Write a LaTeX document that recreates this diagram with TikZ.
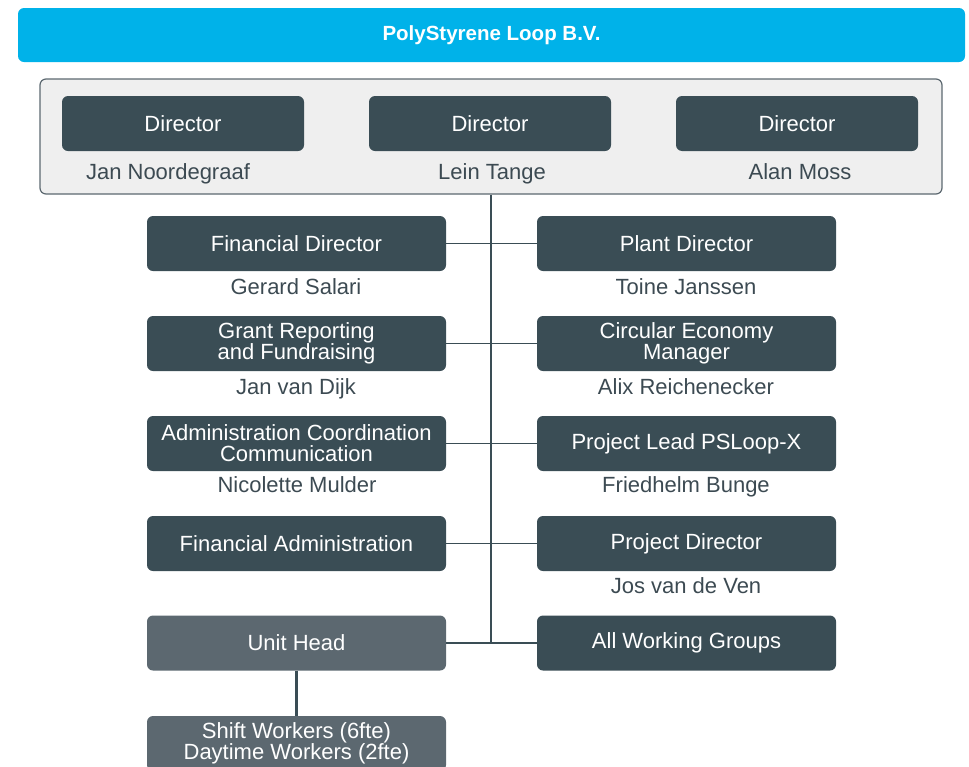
\documentclass[tikz,border=0pt]{standalone}
\usepackage{fontspec}
\setmainfont{Liberation Sans}
\usepackage{xcolor}
\usepackage{tikz}
\usetikzlibrary{positioning}
\definecolor{loopBlue}{HTML}{00B2E9}
\definecolor{slate}{HTML}{3A4D55}
\definecolor{slateLight}{HTML}{5C6870}
\definecolor{boardFill}{HTML}{EFEFEF}
\definecolor{nameText}{HTML}{3C4A52}
\tikzset{%
  company/.style={rectangle, rounded corners=6pt, fill=loopBlue, text=white, minimum width=947pt, minimum height=54pt, font=\fontsize{20.5}{21}\selectfont\bfseries},
  board/.style={rectangle, rounded corners=6pt, draw=slateLight, fill=boardFill, line width=1.2pt, minimum width=902pt, minimum height=115pt},
  % ---
  % roles
  % ---
  director/.style={rectangle, rounded corners=6pt, fill=slate, text=white, minimum width=242pt, minimum height=55pt, align=center, font=\fontsize{22}{21}\selectfont},
  role/.style={rectangle, rounded corners=6pt, fill=slate, text=white, minimum width=299pt, minimum height=55pt, align=center, font=\fontsize{22}{21}\selectfont},
  unitRole/.style={role, fill=slateLight},% plant floor
  person/.style={anchor=base, text=nameText, font=\fontsize{22}{21}\selectfont},% placed on its baseline
  link/.style={draw=slate, line width=1.4pt},
  unitLink/.style={draw=slate, line width=3pt}
}

\begin{document}
\begin{tikzpicture}[x=1pt, y=-1pt]
    \useasboundingbox (0,0) rectangle (969,766);

    \node[company] (plsb) at (491.5,35) {PolyStyrene Loop B.V.};
    \node[board] (board) at (491,136.5) {};

    \node[director] (dir1) at (183,123.5) {Director};
    \node[director] (dir2) at (490,123.5) {Director};
    \node[director] (dir3) at (797,123.5) {Director};
    \node[person] (n1) at (168,179) {Jan Noordegraaf};
    \node[person] (n2) at (492,179) {Lein Tange};
    \node[person] (n3) at (800,179) {Alan Moss};

    \node[role] (finDir) at (296.5,243.5) {Financial Director};
    \node[role] (plantDir) at (686.5,243.5) {Plant Director};
    \node[person] (n4) at (296,294) {Gerard Salari};
    \node[person] (n5) at (686,294) {Toine Janssen};

    \node[role] (grant) at (296.5,343.5) {Grant Reporting\\and Fundraising};
    \node[role] (circular) at (686.5,343.5) {Circular Economy\\Manager};
    \node[person] (n6) at (296,394) {Jan van Dijk};
    \node[person] (n7) at (686,394) {Alix Reichenecker};

    \node[role] (admin) at (296.5,443.5) {Administration Coordination\\Communication};
    \node[role] (psloop) at (686.5,443.5) {Project Lead PSLoop-X};
    \node[person] (n8) at (297,492) {Nicolette Mulder};
    \node[person] (n9) at (686,492) {Friedhelm Bunge};

    \node[role] (finAdmin) at (296.5,543.5) {Financial Administration};
    \node[role] (projDir) at (686.5,543.5) {Project Director};
    \node[person] (n10) at (686,593) {Jos van de Ven};

    \node[unitRole] (unit) at (296.5,643) {Unit Head};
    \node[role] (groups) at (686.5,643) {All Working Groups};
    \node[unitRole] (workers) at (296.5,743.5) {Shift Workers (6fte)\\Daytime Workers (2fte)};

    \draw[link] (board.south) -- (board.south |- unit.east);
    \draw[link] (finDir) -- (plantDir);
    \draw[link] (grant) -- (circular);
    \draw[link] (admin) -- (psloop);
    \draw[link] (finAdmin) -- (projDir);
    \draw[link] (unit) -- (groups);
    \draw[unitLink] (unit) -- (workers);
\end{tikzpicture}
\end{document}
